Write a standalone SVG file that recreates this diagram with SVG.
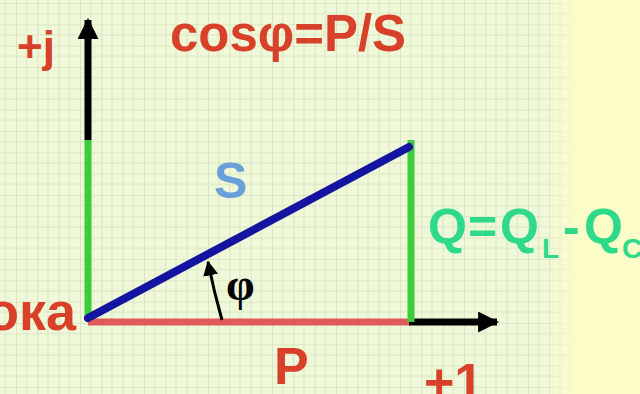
<svg xmlns="http://www.w3.org/2000/svg" width="640" height="394" viewBox="0 0 640 394">
<defs>
<style>
.t{font-family:"Liberation Sans",Arial,sans-serif;font-weight:bold}
.red{fill:#d8402a}
.grn{fill:#2fd98a}
</style>
<pattern id="grid" x="16" y="3" width="21.33" height="21.33" patternUnits="userSpaceOnUse">
<path d="M0 0H21.33M0 0V21.33" stroke="#c9d9b0" stroke-width="1.2" fill="none"/>
<path d="M0 10.67H21.33M10.67 0V21.33" stroke="#d8e6c2" stroke-width="1" fill="none"/>
</pattern>
<linearGradient id="fade" x1="0" x2="1" y1="0" y2="0">
<stop offset="0" stop-color="#fdfdc8" stop-opacity="0"/>
<stop offset="1" stop-color="#fdfdc8" stop-opacity="1"/>
</linearGradient>
<marker id="ah" viewBox="0 0 10 10" refX="9" refY="5" markerWidth="3" markerHeight="3" markerUnits="strokeWidth" orient="auto">
<path d="M0 0L10 5L0 10z" fill="#000"/>
</marker>
<marker id="ahs" viewBox="0 0 10 10" refX="9" refY="5" markerWidth="5" markerHeight="5" markerUnits="strokeWidth" orient="auto">
<path d="M0 0L10 5L0 10z" fill="#000"/>
</marker>
</defs>
<rect width="640" height="394" fill="#fdfdc8"/>
<rect width="575" height="394" fill="#eff8d8"/>
<rect width="575" height="394" fill="url(#grid)"/>
<rect x="545" width="35" height="394" fill="url(#fade)"/>

<g id="connectors">
<line x1="88" y1="140" x2="88" y2="20" stroke="#000" stroke-width="7" marker-end="url(#ah)"/>
<line x1="88" y1="140" x2="88" y2="321" stroke="#3ccc3c" stroke-width="7"/>
<line x1="88" y1="322" x2="411" y2="322" stroke="#e05a5a" stroke-width="7"/>
<line x1="409" y1="322" x2="497" y2="322" stroke="#000" stroke-width="7" marker-end="url(#ah)"/>
<line x1="411" y1="140" x2="411" y2="322" stroke="#3ccc3c" stroke-width="7"/>
<line x1="88" y1="318" x2="409" y2="147" stroke="#1414a0" stroke-width="8" stroke-linecap="round"/>
<path d="M222 320Q214 292 208 262" stroke="#000" stroke-width="3" fill="none" marker-end="url(#ahs)"/>
</g>

<g id="label-j"><text class="t red" x="17" y="62" font-size="44">+j</text></g>
<g id="label-cos"><text class="t red" x="170" y="51" font-size="52" textLength="236" lengthAdjust="spacingAndGlyphs">cosφ=P/S</text></g>
<g id="label-S"><text class="t" x="214" y="198" font-size="50" fill="#6a9fda">S</text></g>
<g id="label-phi"><text x="226" y="300" font-size="46" font-weight="bold" font-family="Liberation Serif,serif" fill="#000">φ</text></g>
<g id="label-oka"><text class="t red" x="76" y="330" font-size="54" text-anchor="end">ока</text></g>
<g id="label-P"><text class="t red" x="274" y="384" font-size="52">P</text></g>
<g id="label-1"><text class="t red" x="424" y="400" font-size="52">+1</text></g>
<g id="label-Q"><text class="t grn" y="244" font-size="50"><tspan x="428">Q</tspan><tspan x="468">=</tspan><tspan x="500">Q</tspan><tspan x="542" font-size="28" dy="14">L</tspan><tspan x="563" dy="-14">-</tspan><tspan x="584">Q</tspan><tspan x="622" font-size="28" dy="14">C</tspan></text></g>
</svg>
